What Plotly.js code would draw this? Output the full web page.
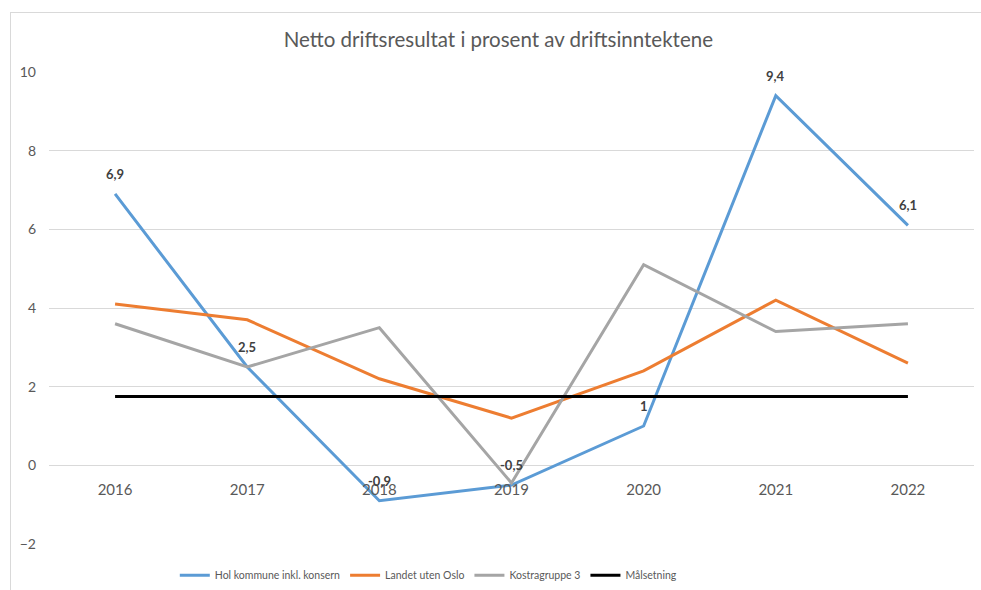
<!DOCTYPE html>
<html>
<head>
<meta charset="utf-8">
<script src="https://cdn.plot.ly/plotly-3.0.1.min.js"></script>
<style>
html,body{margin:0;padding:0;background:#fff;}
#wrap{position:relative;width:981px;height:590px;}
#chart{width:981px;height:590px;}
#frame{position:absolute;left:10px;top:12px;width:971px;height:578px;border-left:1px solid #D9D9D9;border-top:1px solid #D9D9D9;pointer-events:none;}
</style>
</head>
<body>
<div id="wrap"><div id="chart"></div><div id="frame"></div></div>
<script>
const years = ['2016','2017','2018','2019','2020','2021','2022'];
const hol = [6.9, 2.5, -0.9, -0.5, 1, 9.4, 6.1];
const landet = [4.1, 3.7, 2.2, 1.2, 2.4, 4.2, 2.6];
const kostra = [3.6, 2.5, 3.5, -0.45, 5.1, 3.4, 3.6];
const maal = [1.75, 1.75, 1.75, 1.75, 1.75, 1.75, 1.75];
const seriesNames = ['Hol kommune inkl. konsern', 'Landet uten Oslo', 'Kostragruppe 3', 'Målsetning'];
const titleText = 'Netto driftsresultat i prosent av driftsinntektene';

const FONT = 'Lato, "Open Sans", sans-serif';
const holText = hol.map(v => String(v).replace('.', ','));

const traces = [
  {x: years, y: hol, name: seriesNames[0], type: 'scatter', mode: 'lines',
   line: {color: '#5B9BD5', width: 3}},
  {x: years, y: landet, name: seriesNames[1], type: 'scatter', mode: 'lines',
   line: {color: '#ED7D31', width: 3}},
  {x: years, y: kostra, name: seriesNames[2], type: 'scatter', mode: 'lines',
   line: {color: '#A5A5A5', width: 3}},
  {x: years, y: maal, name: seriesNames[3], type: 'scatter', mode: 'lines',
   line: {color: '#000000', width: 3}}
];

const labels = years.map((yr, i) => ({
  x: i, y: hol[i], xref: 'x', yref: 'y', text: '<b>' + holText[i] + '</b>',
  showarrow: false, yshift: 20, xanchor: 'center', yanchor: 'middle',
  font: {family: FONT, size: 13, color: '#404040'}
}));

const layout = {
  width: 981, height: 590,
  margin: {l: 49, r: 7, t: 72, b: 46, autoexpand: false},
  paper_bgcolor: '#ffffff', plot_bgcolor: '#ffffff',
  font: {family: FONT, color: '#595959', size: 14},
  title: {text: titleText, font: {family: FONT, size: 20.5, color: '#595959'},
          x: 0.508, xanchor: 'center', y: 0.932, yanchor: 'middle'},
  showlegend: true,
  legend: {orientation: 'h', x: 0.136, xanchor: 'left', y: -0.066, yanchor: 'middle',
           font: {family: FONT, size: 10.5, color: '#595959'}, itemwidth: 30, traceorder: 'normal'},
  annotations: labels,
  xaxis: {type: 'category', range: [-0.5, 6.5], showgrid: false, zeroline: false, showline: false,
          ticks: '', anchor: 'free', position: 2/12, tickfont: {family: FONT, size: 15, color: '#595959'},
          ticklabelstandoff: 14, fixedrange: true},
  yaxis: {range: [-2, 10], dtick: 2, tick0: 0, showgrid: true, gridcolor: '#D9D9D9', gridwidth: 1,
          zeroline: false, showline: false, ticks: '', tickfont: {family: FONT, size: 14, color: '#595959'},
          ticklabelstandoff: 12, fixedrange: true}
};
Plotly.newPlot('chart', traces, layout, {displayModeBar: false, staticPlot: true});
</script>
</body>
</html>
